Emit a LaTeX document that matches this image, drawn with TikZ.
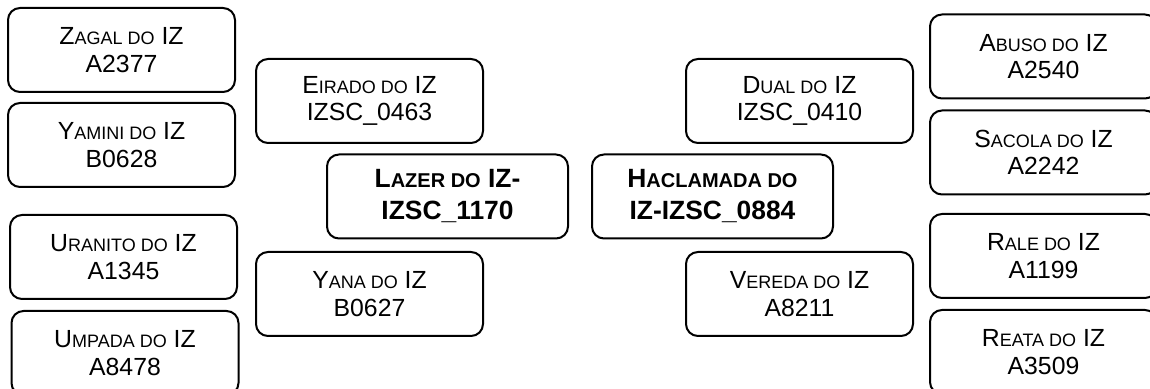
\documentclass[tikz,border=0pt]{standalone}
\usepackage{fontspec}
\setmainfont{Liberation Sans}
\usetikzlibrary{positioning}

\newcommand{\smc}[1]{{\fontsize{9}{10}\selectfont #1}}
\newcommand{\bsmc}[1]{{\fontsize{10}{10}\selectfont #1}}

\begin{document}
\begin{tikzpicture}[
  x=0.5pt, y=-0.5pt,
  card/.style={rectangle, draw, rounded corners=6pt, line width=1pt, minimum width=113.5pt, minimum height=42pt, align=center, font=\fontsize{12.4}{13.8}\selectfont},
  hub/.style={card, minimum width=120.5pt, font=\fontsize{13.2}{16}\selectfont\bfseries}
]
  \clip (0,0) rectangle (1150,389);
  \useasboundingbox (0,0) rectangle (1150,389);

  % left column
  \node[card] (zagal) at (121.5,50) {Z\smc{AGAL DO} IZ\\A2377};
  \node[card] (yamini) at (121.5,145) {Y\smc{AMINI DO} IZ\\B0628};
  \node[card] (uranito) at (123.5,257) {U\smc{RANITO DO} IZ\\A1345};
  \node[card] (umpada) at (125,353) {U\smc{MPADA DO} IZ\\A8478};

  % left hub
  \node[card] (eirado) at (369.5,101) {E\smc{IRADO DO} IZ\\IZSC\_0463};
  \node[hub] (lazer) at (447.5,196.5) {L\bsmc{AZER DO} IZ-\\IZSC\_1170};
  \node[card] (yana) at (369.5,294) {Y\smc{ANA DO} IZ\\B0627};

  % right hub
  \node[card] (dual) at (799.5,101) {D\smc{UAL DO} IZ\\IZSC\_0410};
  \node[hub] (haclamada) at (712.5,196.5) {H\bsmc{ACLAMADA DO}\\IZ-IZSC\_0884};
  \node[card] (vereda) at (799.5,294) {V\smc{EREDA DO} IZ\\A8211};

  % right column
  \node[card] (abuso) at (1043.5,56.5) {A\smc{BUSO DO} IZ\\A2540};
  \node[card] (sacola) at (1043.5,152.5) {S\smc{ACOLA DO} IZ\\A2242};
  \node[card] (rale) at (1043.5,256) {R\smc{ALE DO} IZ\\A1199};
  \node[card] (reata) at (1043.5,352) {R\smc{EATA DO} IZ\\A3509};
\end{tikzpicture}
\end{document}
